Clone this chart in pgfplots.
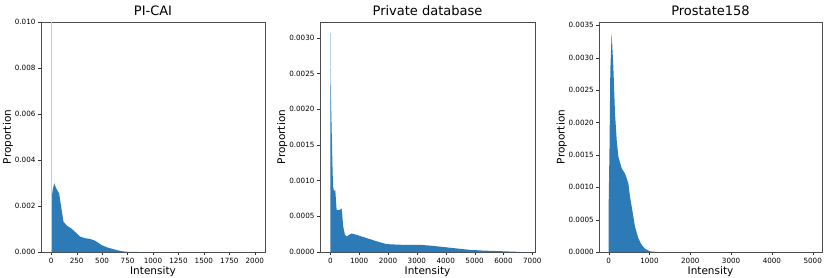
\documentclass[border=0pt]{standalone}
\usepackage{pgfplots}
\pgfplotsset{compat=1.18}
\usepackage{fontspec}
\setmainfont{DejaVu Sans}
\definecolor{histblue}{HTML}{2C7BB6}

\pgfplotsset{
  hist/.style={
    scale only axis,
    height=230pt,
    ymin=0,
    axis line style={black!70},
    tick align=outside,
    xtick pos=left, ytick pos=left,
    major tick length=3pt,
    tick style={black!80},
    tick label style={font=\fontsize{7.2}{8.5}\selectfont},
    yticklabel style={xshift=1pt},
    /pgf/number format/assume math mode=true,
    xticklabel style={/pgf/number format/.cd,set thousands separator={}},
    scaled y ticks=false,
    title style={font=\fontsize{13}{15}\selectfont, yshift=-3pt},
    xlabel style={font=\fontsize{10.5}{12}\selectfont, yshift=4pt},
    ylabel style={font=\fontsize{10.5}{12}\selectfont, yshift=-5pt},
    xlabel={Intensity},
    ylabel={Proportion},
  },
}

\begin{document}
\begin{tikzpicture}[x=1pt,y=1pt]
\useasboundingbox (0,0) rectangle (830,277);

% PI-CAI
\begin{axis}[hist, at={(41pt,25pt)}, width=224pt,
  title={PI-CAI},
  xmin=-100, xmax=2100, ymax=0.010,
  xtick={0,250,...,2000},
  ytick={0,0.002,...,0.010},
  yticklabel style={/pgf/number format/.cd,fixed,fixed zerofill,precision=3},
  ]
  \addplot[fill=histblue, draw=none] coordinates {
    (0,0) (2,0.00226) (15,0.0027) (30,0.00299) (49,0.00277) (78,0.00255)
    (98,0.00197) (121,0.00132) (153,0.00115) (196,0.00103) (251,0.00081)
    (284,0.00067) (333,0.0006) (382,0.00057) (431,0.00049) (497,0.0003)
    (550,0.0002) (598,0.00014) (650,0.00008) (700,0.00003) (750,0.00001)
    (800,0.000003) (850,0)
  } \closedcycle;
  \addplot[draw=histblue!35, line width=0.7pt] coordinates {(0,0) (0,0.0102)};
\end{axis}

% Private database
\begin{axis}[hist, at={(320pt,25pt)}, width=215pt,
  title={Private database},
  xmin=-357, xmax=7093, ymax=0.00322,
  xtick={0,1000,...,7000},
  ytick={0,0.0005,...,0.0030},
  yticklabel style={/pgf/number format/.cd,fixed,fixed zerofill,precision=4},
  ]
  \addplot[fill=histblue, draw=none] coordinates {
    (0,0) (5,0.00263) (20,0.0022) (58,0.00152) (81,0.0011) (104,0.00089)
    (140,0.00085) (173,0.00087) (200,0.0007) (219,0.00059) (335,0.00059)
    (393,0.00061) (450,0.00035) (508,0.00024) (566,0.000215) (650,0.00024)
    (739,0.00026) (912,0.00024) (1143,0.00021) (1374,0.00018) (1605,0.00015)
    (1952,0.00011) (2530,0.0001) (3107,0.0001) (3453,0.00009) (3915,0.00007)
    (4377,0.00005) (4839,0.00003) (5301,0.00002) (5994,0.00001)
    (6456,0.000003) (6600,0)
  } \closedcycle;
  \addplot[draw=histblue!35, line width=1pt] coordinates {(5,0.0026) (5,0.00307)};
\end{axis}

% Prostate158
\begin{axis}[hist, at={(599.3pt,25pt)}, width=222.4pt,
  title={Prostate158},
  xmin=-230, xmax=5220, ymax=0.00355,
  xtick={0,1000,...,5000},
  ytick={0,0.0005,...,0.0035},
  yticklabel style={/pgf/number format/.cd,fixed,fixed zerofill,precision=4},
  ]
  \addplot[fill=histblue, draw=none] coordinates {
    (0,0) (1,0.0008) (20,0.0016) (40,0.0028) (72,0.00338) (114,0.00286)
    (155,0.00214) (196,0.00173) (237,0.00147) (319,0.00129) (400,0.00121)
    (482,0.00106) (523,0.00085) (564,0.0007) (645,0.00039) (727,0.00021)
    (809,0.00011) (890,0.00005) (1013,0.00001) (1200,0)
  } \closedcycle;
\end{axis}
\end{tikzpicture}
\end{document}
